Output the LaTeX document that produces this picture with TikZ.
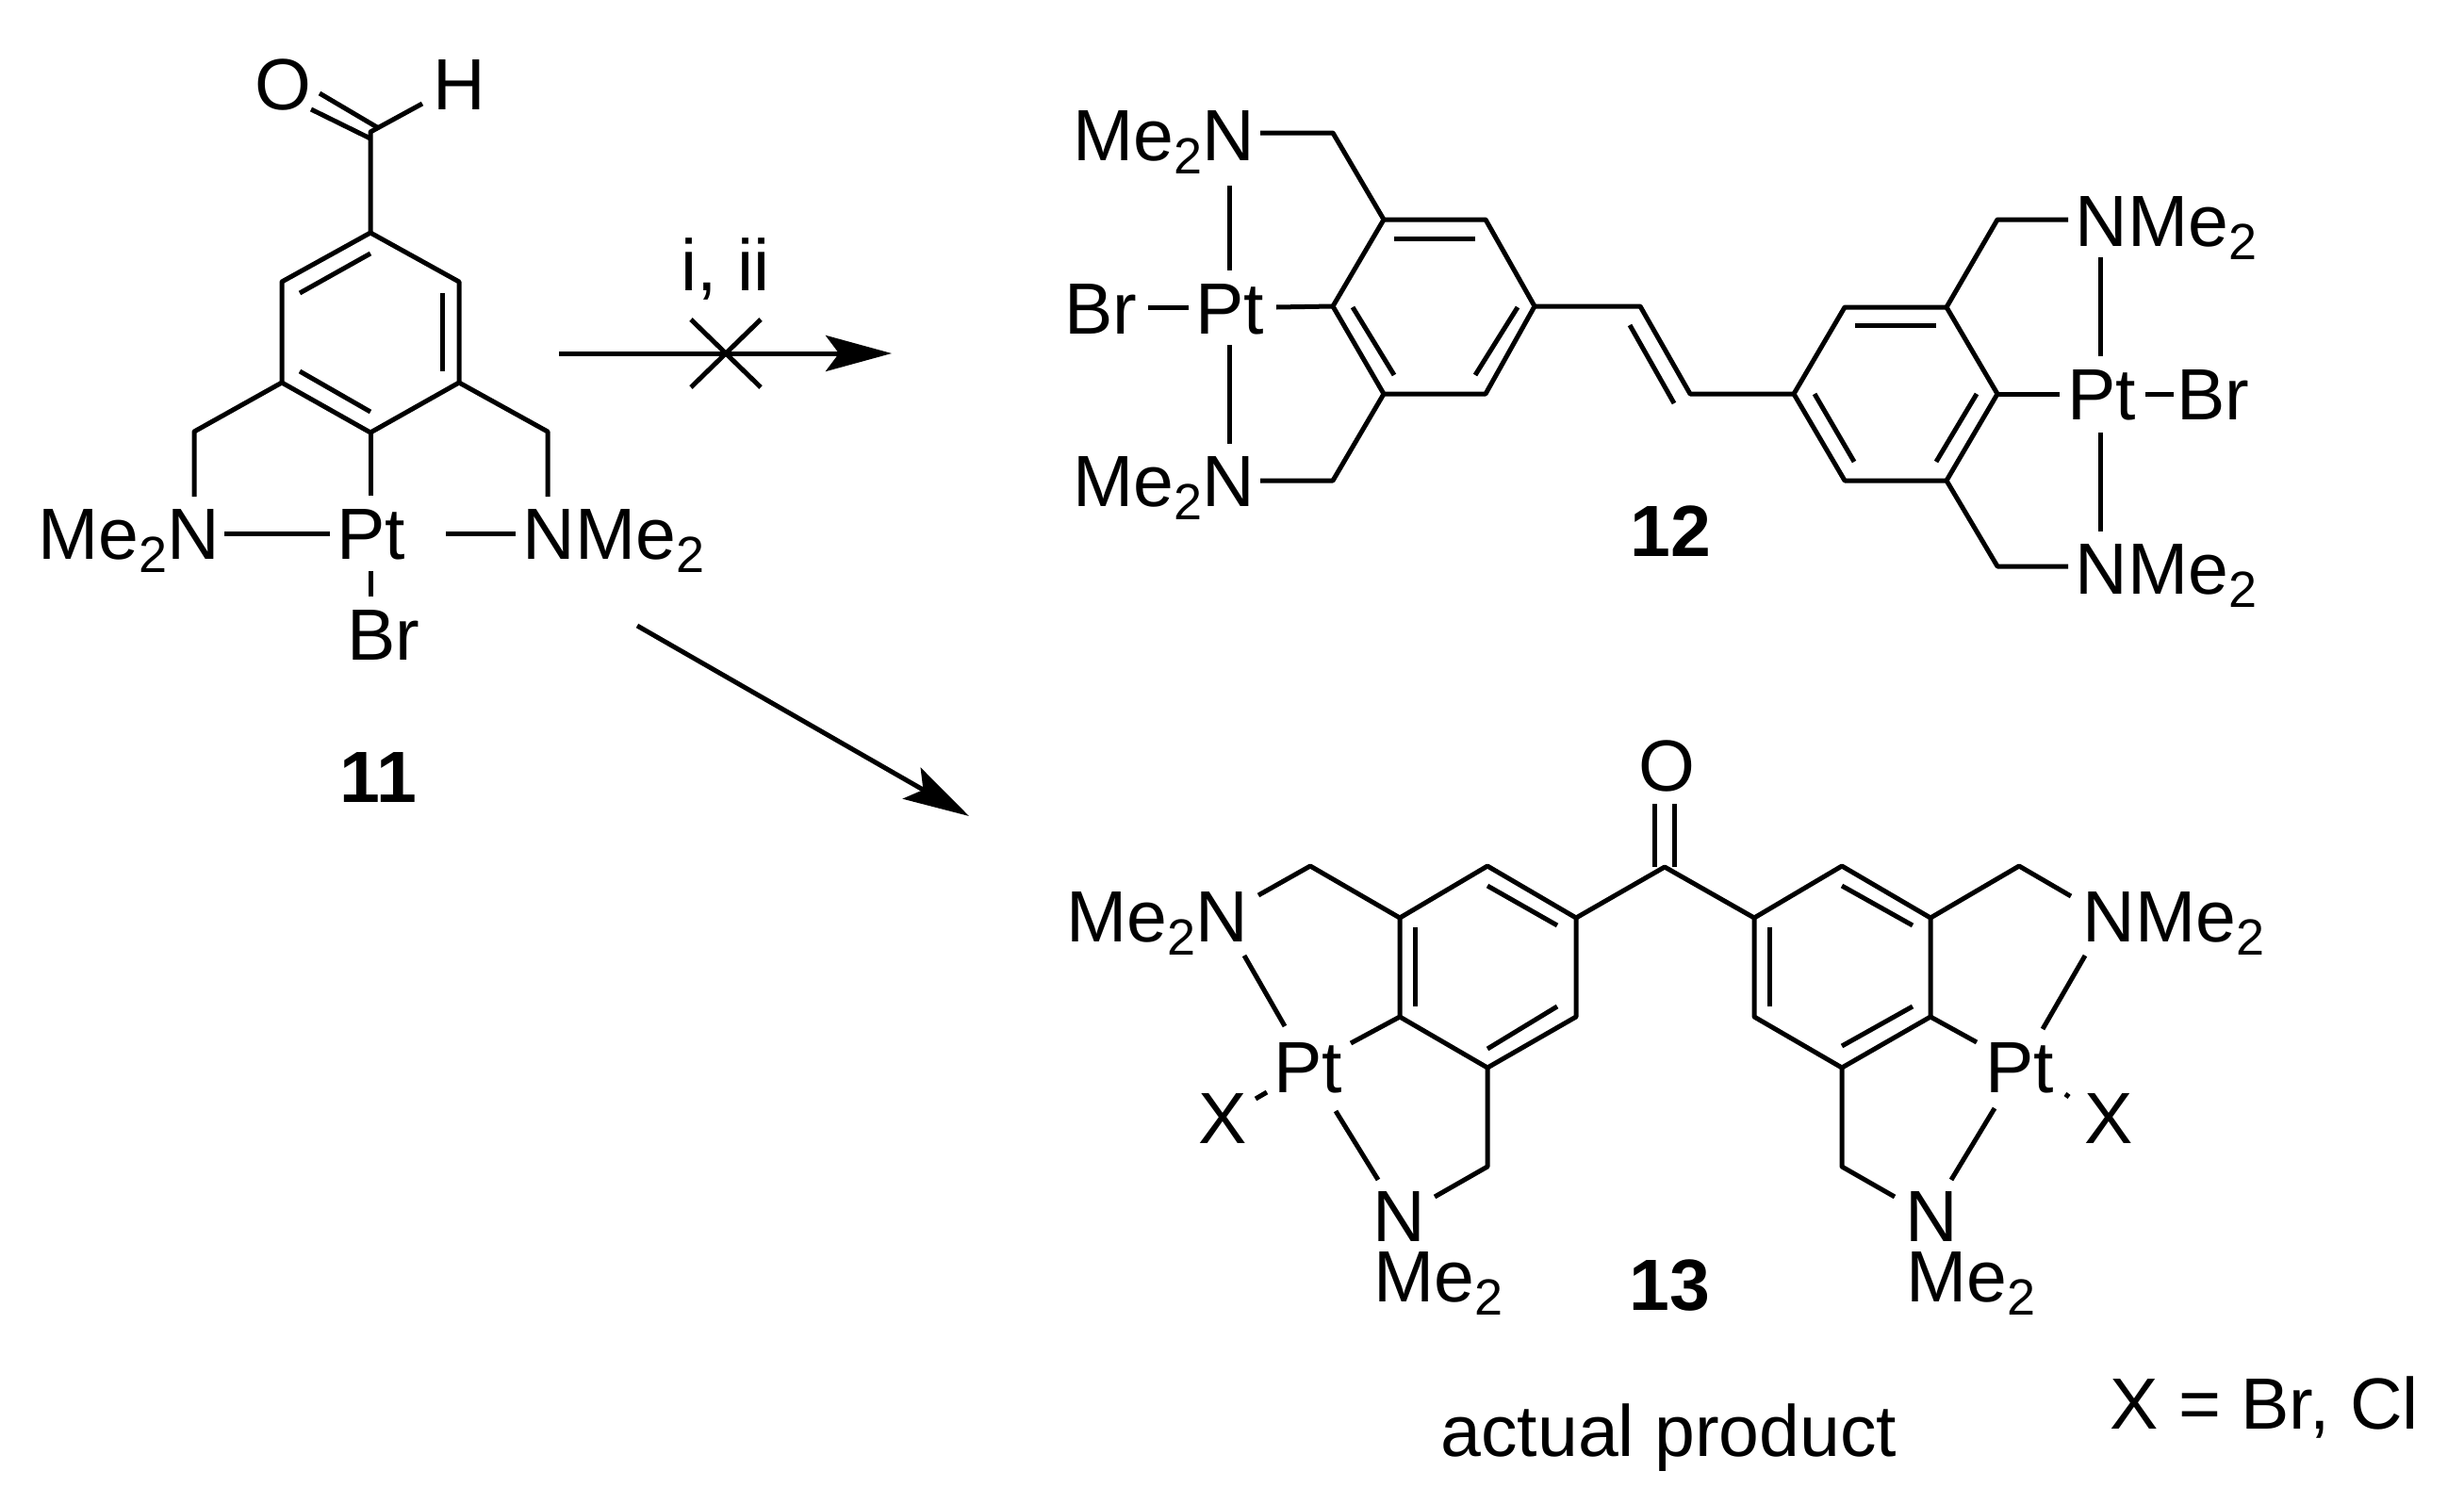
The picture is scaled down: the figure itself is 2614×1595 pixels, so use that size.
\documentclass[tikz,border=0pt]{standalone}
\usepackage{fontspec}
\setmainfont{Liberation Sans}
\usetikzlibrary{arrows.meta}
\newcommand{\subtwo}{\raisebox{-14pt}{\fontsize{54}{54}\selectfont 2}}
\begin{document}
\begin{tikzpicture}[x=1pt,y=-1pt,line width=5pt,line join=round,>={Stealth[length=70pt,width=38pt,inset=14pt]},
  atom/.style={anchor=base west,inner sep=0pt,xshift=-2pt,yshift=-1pt,font=\fontsize{77}{77}\selectfont},
  cmpd/.style={atom,font=\fontsize{77}{77}\selectfont\bfseries}]
  \useasboundingbox (0,0) rectangle (2614,1595);
  % 11
  \coordinate (a1) at (393,247); \coordinate (a2) at (487,299); \coordinate (a3) at (487,406);
  \coordinate (a4) at (393,459); \coordinate (a5) at (299,406); \coordinate (a6) at (299,299);
  \coordinate (ald) at (393,140); \coordinate (aldh) at (448,110);
  \coordinate (aldo1) at (393,147); \coordinate (aldo2) at (330,116);
  \coordinate (aldo3) at (400,135); \coordinate (aldo4) at (339,99);
  \coordinate (ain1) at (393,269); \coordinate (ain2) at (318,311);
  \coordinate (ain3) at (469,311); \coordinate (ain4) at (469,394);
  \coordinate (ain5) at (318,394); \coordinate (ain6) at (393,437);
  \coordinate (ach1) at (206,458); \coordinate (ach1n) at (206,527);
  \coordinate (ach2) at (581,458); \coordinate (ach2n) at (581,527);
  \coordinate (aptc) at (393,526);
  \coordinate (apl1) at (238,566); \coordinate (apl2) at (350,566);
  \coordinate (apr1) at (473,566); \coordinate (apr2) at (547,566);
  \coordinate (abr1) at (393,606); \coordinate (abr2) at (393,633);
  \node[atom] (ao) at (270,115) {O};
  \node[atom] (ah) at (459,115) {H};
  \node[atom] (anl) at (40,592) {Me\subtwo N};
  \node[atom] (apt) at (357,592) {Pt};
  \node[atom] (anr) at (554,592) {NMe\subtwo};
  \node[atom] (abr) at (368,699) {Br};
  \node[cmpd] (aname) at (360,850) {11};
  \draw (a1) -- (a2) -- (a3) -- (a4) -- (a5) -- (a6) -- cycle;
  \draw (a1) -- (ald) -- (aldh);
  \path (aldo1) edge (aldo2) (aldo3) edge (aldo4);
  \path (ain1) edge (ain2) (ain3) edge (ain4) (ain5) edge (ain6);
  \draw (a5) -- (ach1) -- (ach1n);
  \draw (a3) -- (ach2) -- (ach2n);
  \path (a4) edge (aptc) (apl1) edge (apl2) (apr1) edge (apr2) (abr1) edge (abr2);
  % arrows
  \coordinate (ar1s) at (593,375); \coordinate (ar1e) at (946,375);
  \coordinate (x1) at (733,339); \coordinate (x2) at (807,411);
  \coordinate (x3) at (807,339); \coordinate (x4) at (733,411);
  \coordinate (ar2s) at (676,664); \coordinate (ar2e) at (1028,866);
  \draw[->] (ar1s) -- (ar1e);
  \path (x1) edge (x2) (x3) edge (x4);
  \draw[->] (ar2s) -- (ar2e);
  \node[atom] (cond) at (722,307) {i, ii};
  % 12
  \coordinate (b1) at (1468,233); \coordinate (b2) at (1576,233); \coordinate (b3) at (1628,325);
  \coordinate (b4) at (1576,418); \coordinate (b5) at (1468,418); \coordinate (b6) at (1414,325);
  \coordinate (bin1) at (1479,253); \coordinate (bin2) at (1565,253);
  \coordinate (bin3) at (1435,326); \coordinate (bin4) at (1479,398);
  \coordinate (bin5) at (1610,326); \coordinate (bin6) at (1565,398);
  \coordinate (bch1) at (1414,141); \coordinate (bch1n) at (1337,141);
  \coordinate (bch2) at (1414,510); \coordinate (bch2n) at (1337,510);
  \coordinate (bv1) at (1740,325); \coordinate (bv2) at (1793,418);
  \coordinate (bv3) at (1729,345); \coordinate (bv4) at (1776,428);
  \coordinate (d1) at (1903,418); \coordinate (d2) at (1957,326); \coordinate (d3) at (2065,326);
  \coordinate (d4) at (2119,418); \coordinate (d5) at (2065,510); \coordinate (d6) at (1957,510);
  \coordinate (din1) at (1968,345); \coordinate (din2) at (2054,345);
  \coordinate (din3) at (1925,418); \coordinate (din4) at (1967,490);
  \coordinate (din5) at (2097,418); \coordinate (din6) at (2054,490);
  \coordinate (dch1) at (2119,233); \coordinate (dch1n) at (2194,233);
  \coordinate (dch2) at (2119,601); \coordinate (dch2n) at (2194,601);
  \coordinate (dpt) at (2185,418); \coordinate (dbr1) at (2276,418); \coordinate (dbr2) at (2306,418);
  \coordinate (dv1) at (2228,273); \coordinate (dv2) at (2228,378);
  \coordinate (dv3) at (2228,459); \coordinate (dv4) at (2228,564);
  \coordinate (bv5) at (1304,197); \coordinate (bv6) at (1304,287);
  \coordinate (bv7) at (1304,366); \coordinate (bv8) at (1304,471);
  \coordinate (bbr1) at (1218,326); \coordinate (bbr2) at (1261,326);
  \coordinate (bpt) at (1354,326);
  \node[atom] (bnt) at (1138,169) {Me\subtwo N};
  \node[atom] (bnb) at (1138,536) {Me\subtwo N};
  \node[atom] (bbr) at (1129,353) {Br};
  \node[atom] (bpl) at (1268,353) {Pt};
  \node[atom] (dnt) at (2201,260) {NMe\subtwo};
  \node[atom] (dnb) at (2201,629) {NMe\subtwo};
  \node[atom] (dpl) at (2193,444) {Pt};
  \node[atom] (dbr) at (2309,444) {Br};
  \node[cmpd] (bname) at (1729,589) {12};
  \draw (b1) -- (b2) -- (b3) -- (b4) -- (b5) -- (b6) -- cycle;
  \path (bin1) edge (bin2) (bin3) edge (bin4) (bin5) edge (bin6);
  \draw (bch1n) -- (bch1) -- (b1);
  \draw (bch2n) -- (bch2) -- (b5);
  \draw (b3) -- (bv1) -- (bv2) -- (d1);
  \path (bv3) edge (bv4);
  \draw (d1) -- (d2) -- (d3) -- (d4) -- (d5) -- (d6) -- cycle;
  \path (din1) edge (din2) (din3) edge (din4) (din5) edge (din6);
  \draw (dch1n) -- (dch1) -- (d3);
  \draw (dch2n) -- (dch2) -- (d5);
  \path (d4) edge (dpt) (dbr1) edge (dbr2) (dv1) edge (dv2) (dv3) edge (dv4);
  \path (bv5) edge (bv6) (bv7) edge (bv8) (bbr1) edge (bbr2) (bpt) edge (b6);
  % 13
  \coordinate (c1) at (1578,919); \coordinate (c2) at (1672,974); \coordinate (c3) at (1672,1079);
  \coordinate (c4) at (1578,1133); \coordinate (c5) at (1485,1079); \coordinate (c6) at (1485,974);
  \coordinate (e1) at (1954,919); \coordinate (e2) at (2048,974); \coordinate (e3) at (2048,1079);
  \coordinate (e4) at (1954,1133); \coordinate (e5) at (1861,1079); \coordinate (e6) at (1861,974);
  \coordinate (ccar) at (1766,920);
  \coordinate (co1) at (1755,853); \coordinate (co2) at (1755,920);
  \coordinate (co3) at (1776,853); \coordinate (co4) at (1776,920);
  \coordinate (cin1) at (1578,940); \coordinate (cin2) at (1652,982);
  \coordinate (cin3) at (1501,984); \coordinate (cin4) at (1501,1068);
  \coordinate (cin5) at (1578,1113); \coordinate (cin6) at (1652,1068);
  \coordinate (ein1) at (1954,940); \coordinate (ein2) at (2029,982);
  \coordinate (ein3) at (1877,984); \coordinate (ein4) at (1877,1068);
  \coordinate (ein5) at (1954,1110); \coordinate (ein6) at (2029,1068);
  \coordinate (cch1) at (1390,919); \coordinate (cch1n) at (1335,950);
  \coordinate (cch2) at (1578,1238); \coordinate (cch2n) at (1522,1270);
  \coordinate (ech1) at (2142,919); \coordinate (ech1n) at (2197,951);
  \coordinate (ech2) at (1954,1238); \coordinate (ech2n) at (2010,1270);
  \coordinate (cp1) at (1320,1014); \coordinate (cp2) at (1363,1089);
  \coordinate (cp3) at (1433,1107);
  \coordinate (cp4) at (1417,1179); \coordinate (cp5) at (1462,1252);
  \coordinate (cx1) at (1332,1166); \coordinate (cx2) at (1344,1159);
  \coordinate (ep1) at (2212,1014); \coordinate (ep2) at (2167,1092);
  \coordinate (ep3) at (2097,1106);
  \coordinate (ep4) at (2116,1176); \coordinate (ep5) at (2070,1252);
  \coordinate (ex1) at (2191,1161); \coordinate (ex2) at (2195,1164);
  \node[atom] (coxy) at (1738,838) {O};
  \node[atom] (cnt) at (1131,998) {Me\subtwo N};
  \node[atom] (ent) at (2209,998) {NMe\subtwo};
  \node[atom] (cpl) at (1351,1158) {Pt};
  \node[atom] (epl) at (2106,1158) {Pt};
  \node[atom] (cxl) at (1271,1212) {X};
  \node[atom] (exl) at (2211,1212) {X};
  \node[atom] (cnb) at (1456,1316) {N};
  \node[atom] (cme) at (1457,1380) {Me\subtwo};
  \node[atom] (enb) at (2021,1316) {N};
  \node[atom] (eme) at (2022,1380) {Me\subtwo};
  \node[cmpd] (cname) at (1728,1389) {13};
  \node[atom] (note) at (1528,1544) {actual product};
  \node[atom] (xkey) at (2238,1515) {X = Br, Cl};
  \draw (c1) -- (c2) -- (c3) -- (c4) -- (c5) -- (c6) -- cycle;
  \draw (e1) -- (e2) -- (e3) -- (e4) -- (e5) -- (e6) -- cycle;
  \draw (c2) -- (ccar) -- (e6);
  \path (co1) edge (co2) (co3) edge (co4);
  \path (cin1) edge (cin2) (cin3) edge (cin4) (cin5) edge (cin6);
  \path (ein1) edge (ein2) (ein3) edge (ein4) (ein5) edge (ein6);
  \draw (c6) -- (cch1) -- (cch1n);
  \draw (c4) -- (cch2) -- (cch2n);
  \draw (e2) -- (ech1) -- (ech1n);
  \draw (e4) -- (ech2) -- (ech2n);
  \path (cp1) edge (cp2) (c5) edge (cp3) (cp4) edge (cp5) (cx1) edge (cx2);
  \path (ep1) edge (ep2) (e3) edge (ep3) (ep4) edge (ep5) (ex1) edge (ex2);
\end{tikzpicture}
\end{document}
